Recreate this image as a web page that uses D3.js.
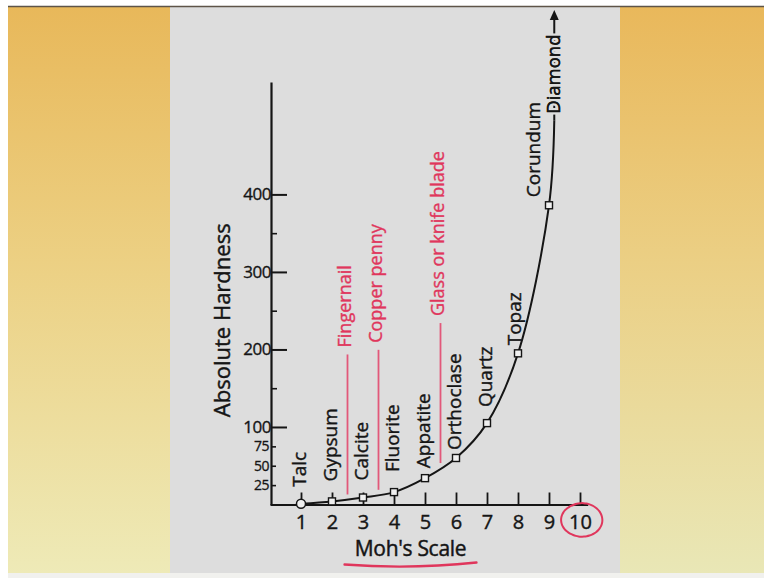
<!DOCTYPE html>
<html>
<head>
<meta charset="utf-8">
<script src="https://cdn.jsdelivr.net/npm/d3@7"></script>
<style>
  html, body { margin: 0; padding: 0; background: #ffffff; }
  svg { display: block; }
  text { font-family: "Open Sans", "Noto Sans", sans-serif; }
</style>
</head>
<body>
<svg id="chart" width="764" height="578"></svg>
<script>
// ---------------- DATA ----------------
const mohsTicks = [1, 2, 3, 4, 5, 6, 7, 8, 9, 10];
const minerals = ["Talc", "Gypsum", "Calcite", "Fluorite", "Appatite", "Orthoclase", "Quartz", "Topaz", "Corundum", "Diamond"];
const mohsValues = [1, 2, 3, 4, 5, 6, 7, 8, 9, 10];
const absoluteHardness = [1, 4, 9, 16, 34, 60, 105, 195, 386, 1500];
const yMajorTicks = [100, 200, 300, 400];
const yMinorLabeledTicks = [25, 50, 75];
const yMinorTicks = [150, 250, 350];
const tools = ["Fingernail", "Copper penny", "Glass or knife blade"];
const toolMohs = [2.5, 3.5, 5.5];
const diamondOffScaleMohs = 9.17;   // where the off-scale curve leaves toward Diamond
const diamondArrowValues = [495, 638];
const circledTick = 10;
const xTitle = "Moh's Scale";
const yTitle = "Absolute Hardness";

// ---------------- SETUP ----------------
const svg = d3.select("#chart");
const W = 764, H = 578;

const defs = svg.append("defs");
function grad(id, stops) {
  const g = defs.append("linearGradient").attr("id", id)
    .attr("x1", 0).attr("y1", 0).attr("x2", 0).attr("y2", 1);
  stops.forEach(s => g.append("stop").attr("offset", s[0]).attr("stop-color", s[1]));
}
grad("gl", [[0, "#e8b85a"], [0.45, "#ecd083"], [1, "#eeeab7"]]);
grad("gr", [[0, "#e9b85b"], [0.45, "#ebcf84"], [1, "#e9e7b6"]]);

svg.append("rect").attr("width", W).attr("height", H).attr("fill", "#ffffff");
svg.append("rect").attr("x", 8).attr("y", 7).attr("width", 162).attr("height", 566).attr("fill", "url(#gl)");
svg.append("rect").attr("x", 620).attr("y", 7).attr("width", 144).attr("height", 566).attr("fill", "url(#gr)");
svg.append("rect").attr("x", 170).attr("y", 7).attr("width", 450).attr("height", 566).attr("fill", "#dddddd");
svg.append("rect").attr("x", 8).attr("y", 573).attr("width", 756).attr("height", 5).attr("fill", "#f1f1ee");
svg.append("line").attr("x1", 8).attr("x2", W).attr("y1", 6.5).attr("y2", 6.5)
  .attr("stroke", "#5e5448").attr("stroke-width", 1.5);

const x = d3.scaleLinear().domain([0, 10.25]).range([270, 587.75]);
const y = d3.scaleLinear().domain([0, 545]).range([504.5, 82]);

const ink = "#151515";
const red = "#e0365c";
function heavy(sel, color, w) {
  return sel.attr("stroke", color).attr("stroke-width", w).attr("paint-order", "fill");
}

// ---------------- AXES ----------------
const xAxis = svg.append("g").attr("transform", `translate(0,${y(0)})`)
  .call(d3.axisBottom(x).tickValues(mohsTicks).tickSize(-12).tickSizeOuter(0).tickPadding(10));
xAxis.select(".domain").attr("stroke", ink).attr("stroke-width", 2.2);
xAxis.selectAll(".tick line").attr("stroke", ink).attr("stroke-width", 1.8);
heavy(xAxis.selectAll(".tick text").attr("fill", ink).attr("font-size", 20)
  .style("font-family", "'Open Sans', sans-serif"), ink, 0.4);

const yAxis = svg.append("g").attr("transform", `translate(${x(0) + 1},0)`)
  .call(d3.axisLeft(y).tickValues(yMajorTicks).tickSize(-16).tickSizeOuter(0).tickPadding(0));
yAxis.select(".domain").attr("stroke", ink).attr("stroke-width", 2.2);
yAxis.selectAll(".tick line").attr("stroke", ink).attr("stroke-width", 2);
heavy(yAxis.selectAll(".tick text").attr("fill", ink).attr("font-size", 17).attr("letter-spacing", -0.5)
  .style("font-family", "'Open Sans', sans-serif"), ink, 0.35);

const yAxis2 = svg.append("g").attr("transform", `translate(${x(0) + 1},0)`)
  .call(d3.axisLeft(y).tickValues(yMinorLabeledTicks).tickSize(-5).tickSizeOuter(0).tickPadding(2));
yAxis2.select(".domain").remove();
yAxis2.selectAll(".tick line").attr("stroke", ink).attr("stroke-width", 1.6);
heavy(yAxis2.selectAll(".tick text").attr("fill", ink).attr("font-size", 14).attr("letter-spacing", -0.5)
  .style("font-family", "'Open Sans', sans-serif"), ink, 0.3);

const yAxis3 = svg.append("g").attr("transform", `translate(${x(0) + 1},0)`)
  .call(d3.axisLeft(y).tickValues(yMinorTicks).tickSize(-6).tickSizeOuter(0).tickFormat(""));
yAxis3.select(".domain").remove();
yAxis3.selectAll(".tick line").attr("stroke", ink).attr("stroke-width", 1.6);

// axis titles
heavy(svg.append("text")
  .attr("transform", `translate(222,${(y(0) + y(545)) / 2 + 27}) rotate(-90)`)
  .attr("text-anchor", "middle").attr("dy", "0.35em")
  .attr("font-size", 22).attr("fill", ink).text(yTitle), ink, 0.45);

const xTitleX = (x(3.5) + x(5.5)) / 2 + 1;
heavy(svg.append("text")
  .attr("x", xTitleX).attr("y", 556)
  .attr("text-anchor", "middle").attr("font-size", 21).attr("letter-spacing", -0.3)
  .attr("fill", ink).text(xTitle), ink, 0.45);

// red underline
svg.append("path")
  .attr("d", `M${xTitleX - 66},564.5 Q${xTitleX},569.5 ${xTitleX + 66},562.5`)
  .attr("fill", "none").attr("stroke", red).attr("stroke-width", 2.3).attr("stroke-linecap", "round");

// red circle around tick 10
(function () {
  const cx = x(circledTick) + 2, cy = 520, rx = 20, ry = 17;
  const pts = d3.range(0, 1.001, 0.02).map(t => {
    const a = -2.3 + t * (2 * Math.PI + 0.45);
    const r = 1 + 0.06 * t;
    return [cx + rx * r * Math.cos(a), cy + ry * Math.sin(a) * (1 - 0.03 * t)];
  });
  svg.append("path").attr("d", d3.line().curve(d3.curveBasis)(pts))
    .attr("fill", "none").attr("stroke", red).attr("stroke-width", 2).attr("stroke-linecap", "round");
})();

// ---------------- CURVE ----------------
const pts = mohsValues.slice(0, 9).map((m, i) => [x(m), y(absoluteHardness[i])]);
pts.push([x(diamondOffScaleMohs), y(diamondArrowValues[0])]);
svg.append("path")
  .attr("d", d3.line().curve(d3.curveCatmullRom.alpha(0.5))(pts))
  .attr("fill", "none").attr("stroke", ink).attr("stroke-width", 2);

const ax = x(diamondOffScaleMohs);
svg.append("line").attr("x1", ax).attr("x2", ax)
  .attr("y1", y(diamondArrowValues[0])).attr("y2", y(diamondArrowValues[1]) + 6)
  .attr("stroke", ink).attr("stroke-width", 2);
const tipY = y(diamondArrowValues[1]);
svg.append("path")
  .attr("d", `M${ax},${tipY} L${ax - 4.5},${tipY + 10} L${ax + 4.5},${tipY + 10} Z`)
  .attr("fill", ink);

// ---------------- RED REFERENCE LINES ----------------
function curveValueAt(m) {
  const i = Math.floor(m) - 1;
  const t = m - Math.floor(m);
  return absoluteHardness[i] * (1 - t) + absoluteHardness[i + 1] * t;
}
tools.forEach((name, i) => {
  const m = toolMohs[i];
  const bottom = y(curveValueAt(m)) - 5;
  const top = bottom - 140;
  svg.append("line").attr("x1", x(m)).attr("x2", x(m)).attr("y1", bottom).attr("y2", top)
    .attr("stroke", "#e2587a").attr("stroke-width", 1.8);
  heavy(svg.append("text")
    .attr("transform", `translate(${x(m) - 3},${top - 7}) rotate(-90)`)
    .attr("dy", "0.35em").attr("font-size", 18).attr("fill", red).text(name), red, 0.35);
});

// ---------------- MARKERS ----------------
const markerData = mohsValues.slice(0, 9).map((m, i) => ({ m, v: absoluteHardness[i], name: minerals[i] }));
svg.selectAll("rect.mk").data(markerData.slice(1)).join("rect").attr("class", "mk")
  .attr("x", d => x(d.m) - 3.5).attr("y", d => y(d.v) - 3.5)
  .attr("width", 7).attr("height", 7)
  .attr("fill", "#f0f0f0").attr("stroke", ink).attr("stroke-width", 1.4);
svg.append("circle").attr("cx", x(markerData[0].m)).attr("cy", y(markerData[0].v)).attr("r", 4.5)
  .attr("fill", "#f0f0f0").attr("stroke", ink).attr("stroke-width", 1.5);

// ---------------- MINERAL LABELS ----------------
const labelGap = { Talc: 17, Gypsum: 20, Calcite: 17, Fluorite: 20, Appatite: 10, Orthoclase: 8, Quartz: 16, Topaz: 8, Corundum: 8 };
const labelShift = { Topaz: -4, Corundum: -16 };
markerData.forEach(d => {
  heavy(svg.append("text")
    .attr("transform", `translate(${x(d.m) + (labelShift[d.name] ?? -2)},${y(d.v) - labelGap[d.name]}) rotate(-90)`)
    .attr("dy", "0.35em").attr("font-size", 19).attr("fill", ink).text(d.name), ink, 0.4);
});
svg.append("text")
  .attr("transform", `translate(${ax - 1},${y(diamondArrowValues[0]) - 7}) rotate(-90)`)
  .attr("dy", "0.35em").attr("font-size", 18.5).attr("fill", ink)
  .attr("stroke", "#dddddd").attr("stroke-width", 5).attr("paint-order", "stroke")
  .text(minerals[9]);
svg.append("text")
  .attr("transform", `translate(${ax - 1},${y(diamondArrowValues[0]) - 7}) rotate(-90)`)
  .attr("dy", "0.35em").attr("font-size", 18.5).attr("fill", ink)
  .attr("stroke", ink).attr("stroke-width", 0.4)
  .text(minerals[9]);
</script>
</body>
</html>
